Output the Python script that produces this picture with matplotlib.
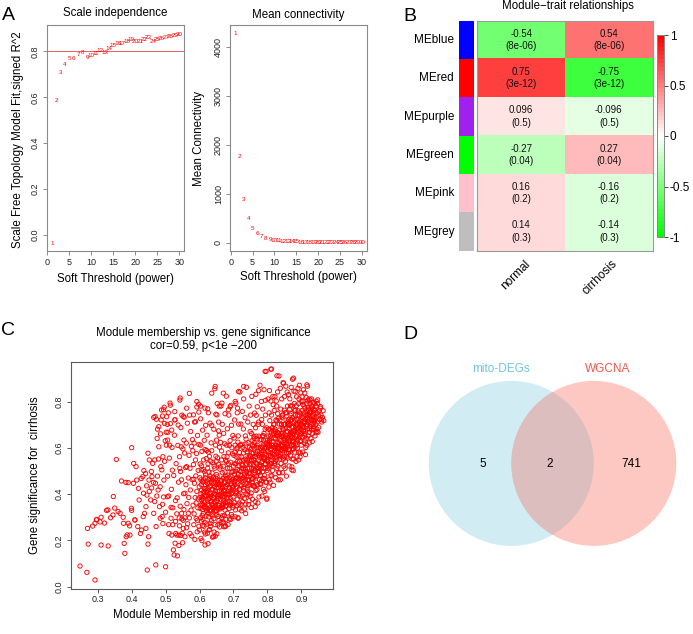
import numpy as np
import matplotlib.pyplot as plt
from matplotlib.colors import LinearSegmentedColormap
from matplotlib.patches import Circle

plt.rcParams['font.family'] = ['Liberation Sans', 'DejaVu Sans']

W, H = 693, 634

# A: soft threshold picking
sft_power = list(range(1, 31))
sft_r2 = [-0.036, 0.587, 0.710, 0.743, 0.771, 0.771, 0.786, 0.793, 0.772, 0.783,
          0.790, 0.804, 0.797, 0.812, 0.826, 0.833, 0.836, 0.841, 0.851, 0.845,
          0.845, 0.851, 0.859, 0.845, 0.852, 0.855, 0.859, 0.865, 0.870, 0.872]
mean_k = [4280, 1760, 890, 500, 300, 190, 125, 88, 64, 48,
          37, 29, 23, 19, 16, 13, 11, 9.5, 8.3, 7.3,
          6.5, 5.8, 5.2, 4.7, 4.3, 3.9, 3.6, 3.3, 3.1, 2.9]

# B: module-trait relationships
modules = ['MEblue', 'MEred', 'MEpurple', 'MEgreen', 'MEpink', 'MEgrey']
module_colors = ['#0000FF', '#FF0000', '#A020F0', '#00FF00', '#FFC0CB', '#BEBEBE']
traits = ['normal', 'cirrhosis']
cor_normal = ['-0.54', '0.75', '0.096', '-0.27', '0.16', '0.14']
cor_cirrhosis = ['0.54', '-0.75', '-0.096', '0.27', '-0.16', '-0.14']
pvals = ['8e-06', '3e-12', '0.5', '0.04', '0.2', '0.3']

# C: module membership vs gene significance (x1000, pairs MM, GS)
gene_pts = [
 248,89, 268,62, 292,29, 270,252, 272,184, 292,274, 297,291, 310,180, 307,280, 310,300,
 331,176, 326,330, 346,390, 355,550, 350,340, 366,317, 370,457, 376,274, 380,144, 378,187,
 383,451, 390,450, 400,601, 390,274, 395,223, 400,330, 405,447, 406,533, 410,288, 413,519,
 415,461, 418,260, 420,425, 422,375, 426,230, 433,476, 435,404, 438,317, 442,252, 442,346,
 446,72, 448,184, 448,577, 450,216, 451,461, 456,375, 460,476, 462,533, 465,317, 465,732,
 470,447, 471,94, 472,260, 475,641, 478,418, 480,605, 482,346, 486,519, 487,721, 488,764,
 490,303, 492,562, 495,461, 500,86, 503,735, 505,389, 506,634, 510,230, 514,785, 518,677,
 520,504, 523,159, 525,137, 527,721, 530,230, 535,133, 537,699, 539,223, 542,807, 542,512,
 547,317, 550,190, 554,634, 557,216, 557,404, 562,519, 567,317, 570,836, 572,230,
 296,289, 330,332, 320,275, 345,310, 360,325, 285,262, 338,298,
 394,263, 409,289, 384,216, 387,224, 429,245, 434,303, 399,339, 375,300,
 428,468, 436,502, 444,436, 452,412, 458,498, 464,451, 468,548, 474,392, 476,478, 484,432,
 489,505, 494,388, 497,542, 452,548, 441,489, 459,427, 479,552, 491,356, 445,396, 468,368,
 473,724, 480,692, 485,661, 491,738, 497,706, 502,668, 508,752, 512,612, 496,776, 505,702,
 476,681, 499,631,
 484,296, 492,273, 500,322, 509,268, 516,296, 521,341, 529,282, 533,315, 541,263, 548,293,
 545,221, 539,178, 552,252, 528,188, 518,223,
 646,866, 636,837, 670,837, 715,844, 730,866, 543,816, 513,794, 494,765, 469,736, 592,801,
 616,772, 666,794, 685,765, 705,801, 582,743, 552,736, 528,722, 651,743, 631,707, 603,781,
 626,752, 658,781, 692,784, 712,772, 598,755, 562,772, 585,712, 618,698,
 616,180, 641,216, 675,260, 714,296, 764,346, 798,383, 838,462, 872,505,
 793,931, 810,941, 828,912, 877,902, 916,873, 847,880, 956,779, 960,722, 946,671,
 502,612, 506,478, 509,392, 511,556, 514,705, 516,343, 519,602, 521,268, 524,481, 526,655,
 529,372, 531,532, 533,223, 536,611, 538,452, 540,297, 507,668, 517,421, 527,757, 534,384,
 541,562, 543,348, 545,688, 547,462, 549,231, 551,596, 553,402, 555,733, 557,298, 559,515,
 561,621, 563,359, 565,272, 567,470, 569,568, 571,742, 573,418, 575,331, 577,219, 579,636,
 544,498, 548,742, 552,287, 556,578, 560,441, 564,707, 568,386, 572,512, 576,607, 578,463,
 546,605, 554,333, 562,255, 570,297, 574,671,
 581,352, 582,528, 583,268, 584,621, 585,447, 586,204, 587,385, 588,713, 589,479, 590,295,
 591,576, 592,412, 593,237, 594,654, 595,341, 596,503, 597,789, 598,261, 599,432, 580,588,
 584,315, 588,548, 592,777, 596,379, 598,615, 583,465, 590,362, 594,287,
 600,245, 601,471, 602,338, 603,612, 604,401, 605,283, 606,523, 607,199, 608,389, 609,677,
 610,452, 611,317, 612,548, 613,261, 614,425, 615,362, 616,593, 617,228, 618,484, 619,305,
 601,386, 603,298, 605,441, 607,357, 609,265, 611,506, 613,412, 615,236, 617,339, 619,424,
 602,531, 604,209, 606,376, 608,455, 610,291, 612,371, 614,633, 616,278, 618,392, 620,554,
 603,726, 607,585, 611,405, 615,497, 619,346,
 621,271, 622,418, 623,355, 624,512, 625,186, 626,443, 627,302, 628,381, 629,563, 630,247,
 631,477, 632,329, 633,405, 634,622, 635,285, 636,451, 637,358, 638,214, 639,536, 621,589,
 623,231, 625,397, 627,463, 629,329, 631,274, 633,542, 635,367, 637,492, 639,306, 622,655,
 624,338, 626,378, 628,245, 630,431, 632,389, 634,312, 636,588, 638,421, 640,351, 624,769,
 628,496, 632,261, 636,697, 626,582, 634,462,
 641,386, 642,294, 643,521, 644,347, 645,453, 646,268, 647,612, 648,398, 649,328, 650,485,
 651,229, 652,371, 653,557, 654,412, 655,303, 656,674, 657,441, 658,352, 659,258, 660,508,
 641,472, 643,236, 645,367, 647,415, 649,542, 651,311, 653,451, 655,381, 657,286, 659,603,
 642,681, 644,431, 646,326, 648,564, 650,373, 652,475, 654,335, 656,529, 658,413, 660,394,
 645,856, 648,746, 652,792, 656,712, 650,634, 658,655, 646,218, 654,266,
 661,336, 662,458, 663,278, 664,412, 665,587, 666,352, 667,493, 668,307, 669,434, 670,521,
 671,372, 672,259, 673,448, 674,618, 675,331, 676,402, 677,547, 678,291, 679,467, 680,383,
 661,518, 663,391, 665,298, 667,425, 669,355, 671,471, 673,308, 675,496, 677,364, 679,541,
 662,624, 664,342, 666,443, 668,388, 670,279, 672,563, 674,415, 676,453, 678,349, 680,612,
 663,781, 667,702, 671,663, 675,748, 679,824, 669,275, 677,262,
 681,442, 682,318, 683,512, 684,398, 685,579, 686,356, 687,471, 688,293, 689,427, 690,632,
 691,381, 692,538, 693,456, 694,312, 695,495, 696,408, 697,575, 698,342, 699,463, 700,521,
 681,562, 683,385, 685,456, 687,338, 689,512, 691,447, 693,361, 695,601, 697,429, 699,387,
 682,683, 686,742, 690,778, 694,698, 698,654, 684,269, 692,291, 696,302, 688,611, 700,432,
 701,568, 702,363, 703,487, 704,441, 705,612, 706,332, 707,531, 708,408, 709,472, 710,595,
 711,378, 712,506, 713,445, 714,652, 715,357, 716,523, 717,421, 718,581, 719,462, 720,389,
 702,643, 704,531, 706,468, 708,562, 710,351, 712,603, 714,487, 716,395, 718,542, 720,613,
 703,721, 707,793, 711,752, 715,703, 719,842, 705,302, 713,298, 717,335, 709,412, 701,455,
 721,498, 722,356, 723,562, 724,437, 725,616, 726,392, 727,525, 728,471, 729,682, 730,415,
 731,548, 732,381, 733,593, 734,462, 735,507, 736,357, 737,638, 738,445, 739,531, 740,584,
 721,612, 723,468, 725,512, 727,368, 729,578, 731,427, 733,486, 735,652, 737,402, 739,478,
 722,703, 726,758, 730,812, 734,731, 738,862, 724,328, 732,336, 736,316, 728,545, 740,422,
 741,512, 742,398, 743,623, 744,463, 745,557, 746,371, 747,528, 748,442, 749,671, 750,489,
 751,593, 752,405, 753,547, 754,466, 755,632, 756,378, 757,508, 758,576, 759,436, 760,651,
 741,578, 743,436, 745,489, 747,602, 749,391, 751,531, 753,662, 755,448, 757,563, 759,512,
 742,712, 746,781, 750,742, 754,823, 758,702, 744,355, 752,342, 748,568, 756,612, 760,473,
 761,548, 762,432, 763,612, 764,503, 765,687, 766,416, 767,573, 768,478, 769,639, 770,531,
 771,442, 772,602, 773,512, 774,712, 775,388, 776,565, 777,463, 778,634, 779,526, 780,598,
 761,623, 763,478, 765,538, 767,651, 769,421, 771,587, 773,702, 775,493, 777,558, 779,447,
 762,751, 766,832, 770,778, 774,848, 778,871, 764,368, 772,362, 768,602, 776,521, 780,442,
 767,741, 775,651,
 781,512, 782,636, 783,458, 784,578, 785,702, 786,497, 787,612, 788,421, 789,554, 790,663,
 791,482, 792,598, 793,531, 794,742, 795,452, 796,621, 797,568, 798,687, 799,503, 800,589,
 781,587, 783,723, 785,542, 787,468, 789,632, 791,548, 793,681, 795,512, 797,451, 799,632,
 782,801, 786,768, 790,852, 794,806, 798,378, 784,392, 792,412, 796,931, 788,653, 800,541,
 785,605, 793,574,
 801,623, 802,512, 803,681, 804,567, 805,462, 806,612, 807,718, 808,531, 809,652, 810,482,
 811,597, 812,742, 813,548, 814,628, 815,502, 816,676, 817,571, 818,438, 819,643, 820,588,
 801,548, 803,602, 805,752, 807,523, 809,591, 811,668, 813,479, 815,612, 817,787, 819,541,
 802,812, 806,848, 810,803, 812,941, 816,823, 820,762, 804,431, 808,452, 814,561, 818,702,
 803,652, 811,532, 807,632, 815,688,
 821,602, 822,682, 823,541, 824,638, 825,721, 826,563, 827,657, 828,512, 829,602, 830,748,
 831,578, 832,664, 833,493, 834,621, 835,703, 836,552, 837,643, 838,588, 839,768, 840,532,
 821,532, 823,642, 825,598, 827,781, 829,668, 831,521, 833,612, 835,562, 837,721, 839,612,
 822,822, 826,803, 830,842, 834,911, 838,858, 824,472, 832,462, 836,492, 828,718, 840,651,
 833,567, 825,662,
 841,612, 842,701, 843,561, 844,652, 845,742, 846,588, 847,678, 848,521, 849,632, 850,763,
 851,598, 852,683, 853,542, 854,652, 855,721, 856,579, 857,642, 858,602, 859,781, 860,556,
 841,662, 843,733, 845,612, 847,552, 849,702, 851,641, 853,752, 855,618, 857,562, 859,672,
 842,812, 846,882, 850,822, 854,867, 858,842, 844,493, 852,512, 856,478, 848,598, 860,712,
 845,682, 853,606,
 861,642, 862,723, 863,592, 864,681, 865,768, 866,621, 867,702, 868,568, 869,652, 870,748,
 871,612, 872,689, 873,552, 874,662, 875,731, 876,597, 877,672, 878,628, 879,792, 880,582,
 861,702, 863,652, 865,592, 867,742, 869,612, 871,668, 873,782, 875,631, 877,552, 879,712,
 862,831, 866,812, 870,862, 874,897, 878,846, 864,522, 872,518, 876,502, 868,662, 880,642,
 865,698, 873,632,
 881,672, 882,741, 883,621, 884,702, 885,783, 886,648, 887,722, 888,598, 889,682, 890,761,
 891,642, 892,712, 893,582, 894,692, 895,752, 896,628, 897,702, 898,662, 899,801, 900,612,
 881,602, 883,763, 885,682, 887,562, 889,742, 891,672, 893,812, 895,652, 897,578, 899,722,
 882,843, 886,821, 890,858, 894,871, 898,838, 884,542, 892,548, 896,561, 888,703, 900,681,
 901,702, 902,762, 903,648, 904,731, 905,788, 906,672, 907,742, 908,621, 909,712, 910,772,
 911,662, 912,723, 913,602, 914,693, 915,761, 916,641, 917,732, 918,682, 919,803, 920,652,
 902,821, 906,852, 910,838, 914,818, 918,867, 904,582, 912,571, 916,612, 908,781, 920,742,
 903,692, 911,631, 915,702,
 921,712, 922,762, 923,668, 924,741, 925,791, 926,692, 927,752, 928,641, 929,722, 930,781,
 931,678, 932,742, 933,662, 934,702, 935,768, 936,683, 937,731, 938,712, 939,792, 940,652,
 922,812, 926,808, 930,812, 934,797, 938,762, 924,622, 932,628, 928,692, 936,752, 940,722,
 941,762, 942,701, 943,782, 944,732, 945,682, 946,752, 947,712, 948,792, 949,668, 950,741,
 952,761, 954,722, 956,772, 958,742, 960,712, 962,732, 964,761, 966,718, 944,802, 948,808,
 943,666, 951,689,
 # dense core, low MM
 603,352, 606,418, 609,333, 612,462, 615,391, 618,441, 621,328, 624,407, 627,351, 630,468,
 633,372, 636,421, 639,338, 642,445, 645,392, 648,352, 651,428, 654,462, 657,398, 660,342,
 663,433, 666,402, 669,468, 672,418, 675,362, 678,432, 681,398, 684,482, 687,428, 690,352,
 693,402, 696,462, 699,352, 604,462, 608,308, 611,382, 614,345, 617,471, 620,412, 623,448,
 626,318, 629,402, 632,438, 635,331, 638,462, 641,342, 644,402, 647,468, 650,328, 653,392,
 656,352, 659,442, 662,378, 665,461, 668,342, 671,412, 674,388, 677,478, 680,352, 683,441,
 686,402, 689,368, 692,478, 695,421, 698,498, 605,505, 625,532, 645,512, 665,548, 685,532,
 610,352, 630,382, 650,441, 670,362, 690,412,
 # dense core, mid MM
 702,452, 705,498, 708,432, 711,541, 714,468, 717,502, 720,441, 723,528, 726,462, 729,512,
 732,478, 735,552, 738,498, 741,462, 744,538, 747,492, 750,562, 753,512, 756,468, 759,548,
 762,502, 765,582, 768,532, 771,498, 774,568, 777,521, 780,572, 783,538, 786,602, 789,512,
 792,558, 795,602, 798,548, 704,582, 710,472, 716,562, 722,482, 728,602, 734,512, 740,548,
 746,458, 752,598, 758,522, 764,562, 770,612, 776,498, 782,562, 788,588, 794,532, 800,612,
 707,402, 719,418, 731,442, 743,412, 755,438, 767,452, 779,482, 791,468, 713,625, 737,618,
 761,642, 785,652,
 # dense core, high MM
 803,582, 806,632, 809,562, 812,612, 815,578, 818,662, 821,572, 824,612, 827,588, 830,652,
 833,598, 836,678, 839,632, 842,592, 845,662, 848,622, 851,702, 854,632, 857,672, 860,612,
 863,702, 866,658, 869,721, 872,642, 875,692, 878,662, 881,721, 884,652, 887,702, 890,682,
 893,742, 896,672, 899,702, 902,732, 905,692, 908,752, 911,712, 914,742, 917,702, 920,768,
 923,722, 926,752, 929,702, 932,778, 935,722, 805,612, 811,642, 817,602, 823,672, 829,622,
 835,598, 841,702, 847,652, 853,592, 859,702, 865,632, 871,722, 877,612, 883,692, 889,632,
 895,712, 901,662, 907,712, 913,672, 919,728, 925,682, 931,718, 937,692, 808,678, 820,702,
 832,728, 844,742, 856,752, 868,782, 880,762, 892,792, 904,802, 916,792, 928,772, 814,522,
 826,548, 838,572, 850,562, 862,578, 874,592, 886,612, 898,632, 910,652,
]

# D: venn
venn_sets = ['mito-DEGs', 'WGCNA']
venn_counts = [5, 2, 741]   # only left, both, only right

fig = plt.figure(figsize=(W / 100, H / 100), dpi=100)


def px_ax(l, t, r, b):
    return fig.add_axes([l / W, 1 - b / H, (r - l) / W, (b - t) / H])


def ftext(x, y, s, **kw):
    return fig.text(x / W, 1 - y / H, s, **kw)


def r_style(ax, edge='#8a8a8a'):
    for sp in ax.spines.values():
        sp.set_color(edge)
        sp.set_linewidth(0.8)
    ax.tick_params(length=3, width=0.7, color=edge, labelsize=6.5, pad=2,
                   labelcolor='#222222')
    for lab in ax.get_yticklabels():
        lab.set_rotation(90)
        lab.set_va('center')


# ---- A1 scale independence
ax1 = px_ax(46.7, 25, 184.3, 251)
for p, r in zip(sft_power, sft_r2):
    ax1.text(p, r, str(p), color='red', fontsize=4.5, ha='center', va='center')
ax1.axhline(0.8, color='#e86060', lw=0.7)
ax1.set_xlim(-0.16, 31.16)
ax1.set_ylim(-0.07, 0.915)
ax1.set_xticks([0, 5, 10, 15, 20, 25, 30])
ax1.set_yticks([0, 0.2, 0.4, 0.6, 0.8])
ax1.set_yticklabels(['0.0', '0.2', '0.4', '0.6', '0.8'])
r_style(ax1)
ftext(115.5, 12.7, 'Scale independence', ha='center', va='center', fontsize=8.3)
ftext(115.5, 279.3, 'Soft Threshold (power)', ha='center', va='center', fontsize=8.3)
ftext(18.3, 140, 'Scale Free Topology Model Fit,signed R^2', ha='center', va='center',
      fontsize=8.3, rotation=90)

# ---- A2 mean connectivity
ax2 = px_ax(230, 25, 367, 251)
for p, k in zip(sft_power, mean_k):
    ax2.text(p, k, str(p), color='red', fontsize=4.5, ha='center', va='center')
ax2.set_xlim(-0.16, 31.16)
ax2.set_ylim(-168, 4451)
ax2.set_xticks([0, 5, 10, 15, 20, 25, 30])
ax2.set_yticks([0, 1000, 2000, 3000, 4000])
r_style(ax2)
ftext(298.3, 15, 'Mean connectivity', ha='center', va='center', fontsize=8.3)
ftext(298.3, 277, 'Soft Threshold (power)', ha='center', va='center', fontsize=8.3)
ftext(199, 138, 'Mean Connectivity', ha='center', va='center', fontsize=8.3, rotation=90)

# ---- B heatmap
gwr = LinearSegmentedColormap.from_list('gwr', ['#00FF00', '#FFFFFF', '#FF0000'], N=50)
cor_mat = np.array([[float(a), float(b)] for a, b in zip(cor_normal, cor_cirrhosis)])
hm = px_ax(477.3, 20.7, 652.7, 250.7)
im = hm.imshow(cor_mat, cmap=gwr, vmin=-1, vmax=1, aspect='auto',
               extent=(0, len(traits), len(modules), 0), interpolation='nearest')
for i in range(len(modules)):
    for j, col in enumerate([cor_normal, cor_cirrhosis]):
        hm.text(j + 0.5, i + 0.5, f'{col[i]}\n({pvals[i]})', ha='center', va='center',
                fontsize=7, linespacing=1.3, color='#111111')
hm.set_xlim(0, len(traits))
hm.set_ylim(len(modules), 0)
hm.set_xticks([])
hm.set_yticks([])
for sp in hm.spines.values():
    sp.set_color('#9a9a9a')
    sp.set_linewidth(0.8)
for j, t in enumerate(traits):
    hm.text(j + 0.58, len(modules) + 0.3, t, rotation=45, rotation_mode='anchor',
            ha='right', va='center', fontsize=8.5)

strip = px_ax(459.3, 20.7, 474.3, 250.7)
strip.barh(range(len(modules)), 1, height=1, color=module_colors)
strip.set_xlim(0, 1)
strip.set_ylim(len(modules) - 0.5, -0.5)
strip.axis('off')
for i, m in enumerate(modules):
    strip.text(-0.35, i, m, ha='right', va='center', fontsize=8.5)

cax = px_ax(656.7, 35, 664, 237)
cb = fig.colorbar(im, cax=cax, ticks=[-1, -0.5, 0, 0.5, 1])
cb.ax.set_yticklabels(['-1', '-0.5', '0', '0.5', '1'])
cb.ax.tick_params(labelsize=8.5, length=3, width=0.7, color='#444444', pad=1)
cb.outline.set_edgecolor('#888888')
cb.outline.set_linewidth(0.7)
ftext(568, 6, 'Module\u2212trait relationships', ha='center', va='center', fontsize=8.3)

# ---- C scatter
gp = np.array(gene_pts, dtype=float).reshape(-1, 2) / 1000
axc = px_ax(70.7, 361.7, 333.3, 588.5)
axc.scatter(gp[:, 0], gp[:, 1], s=9.5, facecolors='none', edgecolors='red', linewidths=0.65)
axc.set_xlim(0.2205, 0.994)
axc.set_ylim(-0.008, 0.973)
axc.set_xticks([0.3, 0.4, 0.5, 0.6, 0.7, 0.8, 0.9])
axc.set_yticks([0, 0.2, 0.4, 0.6, 0.8])
axc.set_yticklabels(['0.0', '0.2', '0.4', '0.6', '0.8'])
r_style(axc, edge='#5a5a5a')
ftext(203.8, 333.3, 'Module membership vs. gene significance', ha='center', va='center',
      fontsize=8.3)
ftext(203.8, 345.5, 'cor=0.59, p<1e \u2212200', ha='center', va='center', fontsize=8.3)
ftext(202, 615, 'Module Membership in red module', ha='center', va='center', fontsize=8.3)
ftext(35, 475, 'Gene significance for  cirrhosis', ha='center', va='center', fontsize=8.3,
      rotation=90)

# ---- D venn
axv = fig.add_axes([0, 0, 1, 1], zorder=-1)
axv.set_xlim(0, W)
axv.set_ylim(H, 0)
axv.axis('off')
cy, r = 463.4, 82.5
cx_left, cx_right = 511.3, 593.8
left = Circle((cx_left, cy), r, fc='#D2ECF3', ec='none')
right = Circle((cx_right, cy), r, fc='#FEC8C2', ec='none')
axv.add_patch(left)
axv.add_patch(right)
lens = Circle((cx_right, cy), r, fc='#DCBEBF', ec='none')
axv.add_patch(lens)
lens.set_clip_path(left)
axv.text(500.7, 369.3, venn_sets[0], color='#6CC6DE', ha='center', va='center', fontsize=8.5)
axv.text(607.2, 369.3, venn_sets[1], color='#EE5A4A', ha='center', va='center', fontsize=8.5)
for xpos, n in zip([482.3, 549.3, 631], venn_counts):
    axv.text(xpos, 464.3, str(n), ha='center', va='center', fontsize=8.5)

# panel letters
for x, y, lab in [(1.5, 15.5, 'A'), (403, 16.3, 'B'), (1.5, 330.5, 'C'), (403, 334.5, 'D')]:
    ftext(x, y, lab, fontsize=14, ha='left', va='center')

fig.savefig('out.png', dpi=100)
